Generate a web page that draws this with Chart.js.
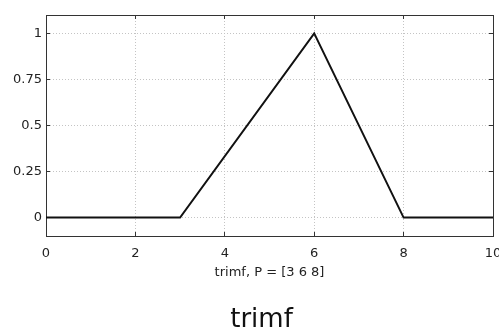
<!DOCTYPE html>
<html>
<head>
<meta charset="utf-8">
<script src="https://cdn.jsdelivr.net/npm/chart.js@4/dist/chart.umd.min.js"></script>
<style>
  html, body { margin: 0; padding: 0; background: #fff; }
  #wrap { position: relative; width: 499px; height: 330px; overflow: hidden; }
  #caption {
    position: absolute; left: 24px; width: 475px; top: 305px;
    text-align: center; font: 26px/26px "DejaVu Sans", sans-serif; color: #111;
  }
</style>
</head>
<body>
<div id="wrap">
  <canvas id="mfChart" width="499" height="330"></canvas>
  <div id="caption">trimf</div>
</div>
<script>
const xValues = [0, 3, 6, 8, 10];
const muValues = [0, 0, 1, 0, 0];
const xTicks = [0, 2, 4, 6, 8, 10];
const yTicks = [0, 0.25, 0.5, 0.75, 1];
const xLabel = 'trimf, P = [3 6 8]';

const tickFont = { family: "'DejaVu Sans', sans-serif", size: 13 };
const frame = { display: true, color: '#333', width: 1 };

const setTicks = list => scale => { scale.ticks = list.map(v => ({ value: v })); };
// keep the plot box where it is, let edge labels hang over
const noEdgePad = size => scale => {
    Object.assign(scale, size);
    scale.paddingLeft = scale.paddingRight = scale.paddingTop = scale.paddingBottom = 0;
};

const ctx = document.getElementById('mfChart').getContext('2d');
new Chart(ctx, {
    type: 'line',
    data: {
        datasets: [{
            data: xValues.map((x, i) => ({ x, y: muValues[i] })),
            borderColor: '#111',
            borderWidth: 2,
            pointRadius: 0,
            tension: 0,
            fill: false,
        }],
    },
    options: {
        responsive: false,
        animation: false,
        events: [],
        layout: { padding: { top: 15, right: 6, left: 0, bottom: 46 } },
        plugins: { legend: { display: false }, tooltip: { enabled: false } },
        scales: {
            x: {
                type: 'linear', position: 'bottom', min: 0, max: 10,
                afterBuildTicks: setTicks(xTicks),
                afterFit: noEdgePad({ height: 48 }),
                grid: { color: '#c4c4c4', tickColor: '#333', tickLength: -4, tickBorderDash: [] },
                border: { ...frame, dash: [1, 2] },
                ticks: { color: '#222', font: tickFont, padding: 14, maxRotation: 0, callback: v => String(v) },
                title: { display: true, text: xLabel, color: '#222', font: tickFont, padding: { top: 0, bottom: 4 } },
            },
            y: {
                type: 'linear', position: 'left', min: -0.1, max: 1.1,
                afterBuildTicks: setTicks(yTicks),
                afterFit: noEdgePad({ width: 46 }),
                grid: { color: '#c4c4c4', tickColor: '#333', tickLength: -4, tickBorderDash: [] },
                border: { ...frame, dash: [1, 2] },
                ticks: { color: '#222', font: tickFont, padding: 8, callback: v => String(v) },
            },
            x2: {
                type: 'linear', position: 'top', min: 0, max: 10,
                afterBuildTicks: setTicks(xTicks),
                afterFit: noEdgePad({ height: 0 }),
                grid: { drawOnChartArea: false, tickColor: '#333', tickLength: -4 },
                border: frame,
                ticks: { display: false },
            },
            y2: {
                type: 'linear', position: 'right', min: -0.1, max: 1.1,
                afterBuildTicks: setTicks(yTicks),
                afterFit: noEdgePad({ width: 0 }),
                grid: { drawOnChartArea: false, tickColor: '#333', tickLength: -4 },
                border: frame,
                ticks: { display: false },
            },
        },
    },
});
</script>
</body>
</html>
